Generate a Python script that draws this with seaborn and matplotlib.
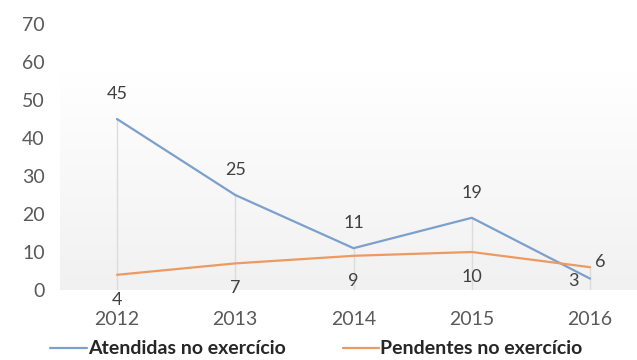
import numpy as np
import pandas as pd
import matplotlib
matplotlib.use("Agg")
import matplotlib.pyplot as plt
import seaborn as sns

# Dados
anos = [2012, 2013, 2014, 2015, 2016]
atendidas = [45, 25, 11, 19, 3]
pendentes = [4, 7, 9, 10, 6]
serie_atendidas = "Atendidas no exercício"
serie_pendentes = "Pendentes no exercício"
y_ticks = [0, 10, 20, 30, 40, 50, 60, 70]

sns.set_theme(style="white")
plt.rcParams["font.family"] = ["Lato", "DejaVu Sans"]

cor_azul = "#7ba0cd"
cor_laranja = "#eb9a62"
cor_texto = "#595959"

df = pd.DataFrame({
    "ano": anos * 2,
    "valor": atendidas + pendentes,
    "serie": [serie_atendidas] * len(anos) + [serie_pendentes] * len(anos),
})

fig = plt.figure(figsize=(6.37, 3.60), dpi=100)
ax = fig.add_axes([60 / 637, 1 - 290 / 360, 1 - 60 / 637, (290 - 24) / 360])

x0, x1 = 2011.518, 2016.397
ax.set_xlim(x0, x1)
ax.set_ylim(0, 70)

# fundo em degradê da área de plotagem
grad = np.linspace(0, 1, 256).reshape(-1, 1)
ax.imshow(grad, extent=(x0, x1, 0, 57.4), aspect="auto", origin="lower",
          cmap=matplotlib.colors.LinearSegmentedColormap.from_list(
              "bg", ["#f1f1f1", "#ffffff"]), zorder=0)

# linhas de projeção
for a, v1, v2 in zip(anos, atendidas, pendentes):
    ax.vlines(a, 0, max(v1, v2), color="#dcdcdc", lw=1, zorder=1)

sns.lineplot(data=df, x="ano", y="valor", hue="serie",
             palette={serie_atendidas: cor_azul, serie_pendentes: cor_laranja},
             linewidth=1.6, ax=ax, legend=False, zorder=3)

# rótulos de dados
kw = dict(textcoords="offset points", fontsize=13, color="#404040",
          ha="center", va="center")
for i, (a, v) in enumerate(zip(anos, atendidas)):
    off = (0, 18) if i < len(anos) - 1 else (-12, -2)
    ax.annotate(str(v), (a, v), xytext=off, **kw)
for i, (a, v) in enumerate(zip(anos, pendentes)):
    off = (0, -18) if i < len(anos) - 1 else (7, 4)
    ax.annotate(str(v), (a, v), xytext=off, **kw)

ax.set_xticks(anos)
ax.set_xticklabels([str(a) for a in anos])
ax.set_yticks(y_ticks)
ax.tick_params(axis="x", length=0, pad=15, labelsize=14, labelcolor=cor_texto)
ax.tick_params(axis="y", length=0, pad=11, labelsize=14, labelcolor=cor_texto)
ax.set_xlabel("")
ax.set_ylabel("")
for s in ax.spines.values():
    s.set_visible(False)
ax.grid(False)

handles = [plt.Line2D([], [], color=cor_azul, lw=1.6),
           plt.Line2D([], [], color=cor_laranja, lw=1.6)]
fig.legend(handles, [serie_atendidas, serie_pendentes], loc="center",
           bbox_to_anchor=(0.497, 1 - 349 / 360), ncol=2, frameon=False,
           prop={"size": 14, "weight": "bold"}, labelcolor="#262626",
           handlelength=1.9, handletextpad=0.05, columnspacing=2.9,
           borderpad=0)

fig.savefig("out.png", dpi=100)
